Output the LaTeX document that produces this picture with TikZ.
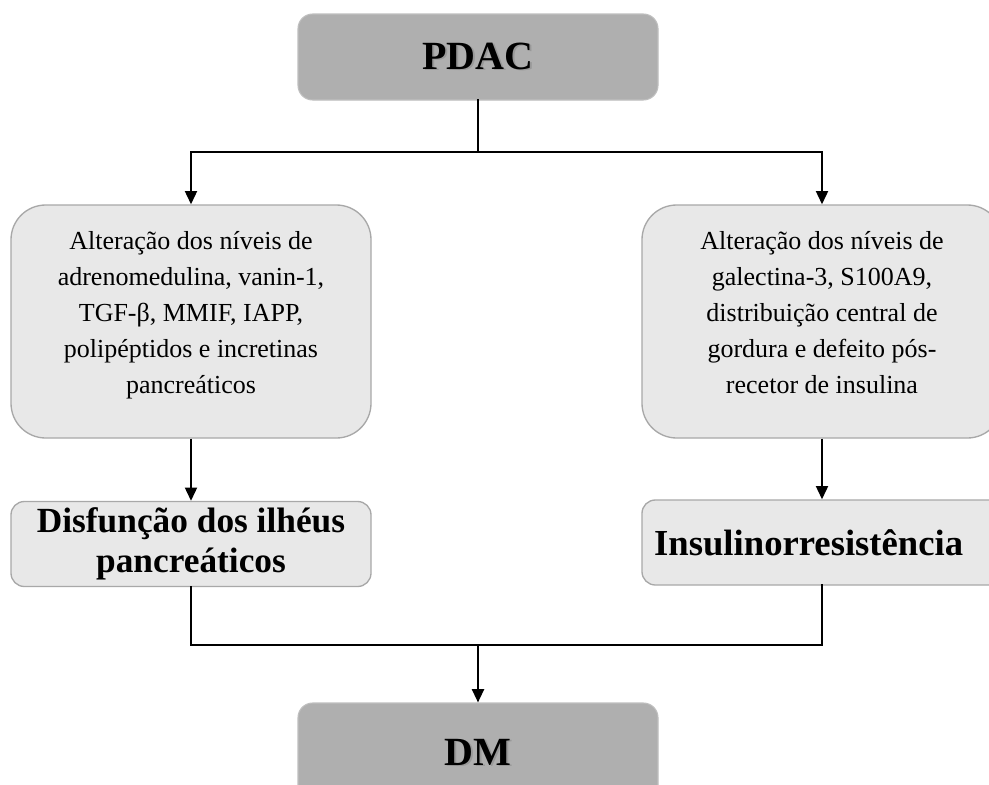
\documentclass[tikz,border=0pt]{standalone}
\usepackage{fontspec}
\setmainfont{Liberation Serif}
\usetikzlibrary{arrows.meta}
\definecolor{boxdark}{HTML}{AFAFAF}
\definecolor{boxlight}{HTML}{E8E8E8}
\definecolor{edgelight}{HTML}{A8A8A8}
\newcommand\shtxt[1]{\makebox[0pt][l]{\kern1.2pt\raisebox{-1.2pt}{\textcolor{black!40}{#1}}}#1}
\begin{document}
\begin{tikzpicture}[x=0.75pt,y=-0.75pt,
  darkbox/.style={draw=boxdark!80!white, fill=boxdark, rounded corners=11pt, line width=0.8pt,
    minimum width=270pt, font=\bfseries\fontsize{30}{32}\selectfont, inner sep=0pt},
  textbox/.style={draw=edgelight, fill=boxlight, rounded corners=26pt, line width=1pt,
    minimum width=270pt, minimum height=174.75pt, align=center, inner sep=0pt,
    text depth=14pt, font=\fontsize{19.5}{27}\selectfont},
  boldbox/.style={draw=edgelight, fill=boxlight, rounded corners=10pt, line width=1pt,
    minimum width=270pt, minimum height=63.75pt, align=center, inner sep=0pt,
    font=\bfseries\fontsize{26.5}{30}\selectfont},
  conn/.style={line width=2.2pt, line cap=rect},
  arr/.style={line width=1.6pt, -{Triangle[width=9pt,length=10pt]}},
]
\clip (0,0) rectangle (989,785);
\fill[white] (0,0) rectangle (989,785);
\node[darkbox, minimum height=64.5pt] (pdac) at (478,57) {\shtxt{PDAC}};
\node[textbox] (L) at (191,321.5) {Alteração dos níveis de\\adrenomedulina, vanin-1,\\TGF-β, MMIF, IAPP,\\polipéptidos e incretinas\\pancreáticos};
\node[textbox] (R) at (822,321.5) {Alteração dos níveis de\\galectina-3, S100A9,\\distribuição central de\\gordura e defeito pós-\\recetor de insulina};
\node[boldbox] (LB) at (191,544) {Disfunção dos ilhéus\\pancreáticos};
\node[boldbox, font=\bfseries\fontsize{27.5}{30}\selectfont] (RB) at (822,542.5) {\kern-20pt Insulinorresistência};
\node[darkbox, minimum height=75pt] (dm) at (478,753) {\shtxt{DM}};
\coordinate (top) at (478,152);
\coordinate (bot) at (478,645);
\draw[conn] (pdac.south) -- (top);
\draw[conn] (191,152) -- (822,152);
\draw[arr] (191,152) -- (L.north);
\draw[arr] (822,152) -- (R.north);
\draw[arr] (L.south) -- (LB.north);
\draw[arr] (R.south) -- (RB.north);
\draw[conn] (LB.south) -- (191,645) -- (822,645) -- (RB.south);
\draw[arr] (bot) -- (dm.north);
\end{tikzpicture}
\end{document}
